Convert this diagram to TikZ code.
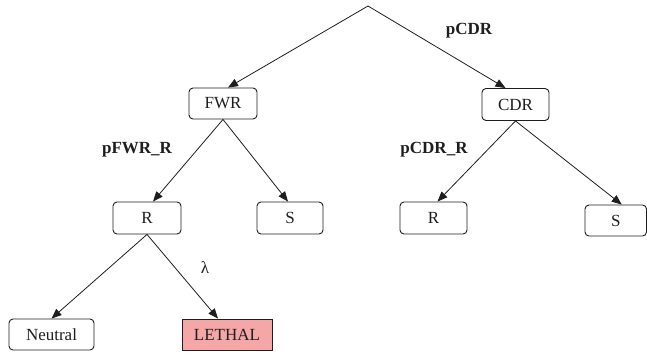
\documentclass[tikz,border=0pt]{standalone}
\usepackage{fontspec}
\setmainfont{Liberation Serif}
\usetikzlibrary{arrows.meta}
\definecolor{ink}{HTML}{1E1E1E}
\definecolor{lethalfill}{HTML}{F4A7A6}
\begin{document}
\begin{tikzpicture}[x=1pt,y=-1pt,
  box/.style={draw=ink, line width=0.9pt, rounded corners=4pt, inner sep=0pt,
    font=\fontsize{17}{20}\selectfont, text=ink, minimum height=31pt},
  lethalbox/.style={box, rounded corners=0pt, fill=lethalfill},
  lbl/.style={font=\fontsize{17}{20}\selectfont\bfseries, text=ink, inner sep=0pt},
  greek/.style={font=\fontsize{17}{20}\selectfont, text=ink, inner sep=0pt},
  edge/.style={draw=ink, line width=0.8pt, -{Triangle[length=10pt,width=8pt]}}]
\useasboundingbox (0,0) rectangle (647,356);
\coordinate (root) at (368,6);
\node[box, minimum width=68pt] (fwr) at (223,103.5) {FWR};
\node[box, minimum width=67pt, minimum height=32pt] (cdr) at (515.5,104.5) {CDR};
\node[box, minimum width=68pt, minimum height=32pt] (r1) at (147,218) {R};
\node[box, minimum width=66pt, minimum height=32pt] (s1) at (290,218) {S};
\node[box, minimum width=67pt, minimum height=32pt] (r2) at (433.5,218) {R};
\node[box, minimum width=61.5pt] (s2) at (615.75,220.5) {S};
\node[box, minimum width=85pt] (neutral) at (51.5,334.5) {Neutral};
\node[lethalbox, minimum width=90pt] (lethal) at (227,334.5) {LETHAL};
\node[lbl] (pcdr) at (469,31) {pCDR};
\node[lbl] (pfwrr) at (137,150) {pFWR\_R};
\node[lbl] (pcdrr) at (434,150) {pCDR\_R};
\node[greek] (lambda) at (205,268) {λ};
\draw[edge] (root) -- ([xshift=5pt]fwr.north);
\draw[edge] (root) -- ([xshift=-10pt]cdr.north);
\draw[edge] (fwr.south) -- ([xshift=6pt]r1.north);
\draw[edge] (fwr.south) -- ([xshift=-2pt]s1.north);
\draw[edge] (cdr.south) -- ([xshift=4pt]r2.north);
\draw[edge] (cdr.south) -- ([xshift=6pt]s2.north);
\draw[edge] (r1.south) -- (neutral.north);
\draw[edge] (r1.south) -- ([xshift=-9pt]lethal.north);
\end{tikzpicture}
\end{document}
